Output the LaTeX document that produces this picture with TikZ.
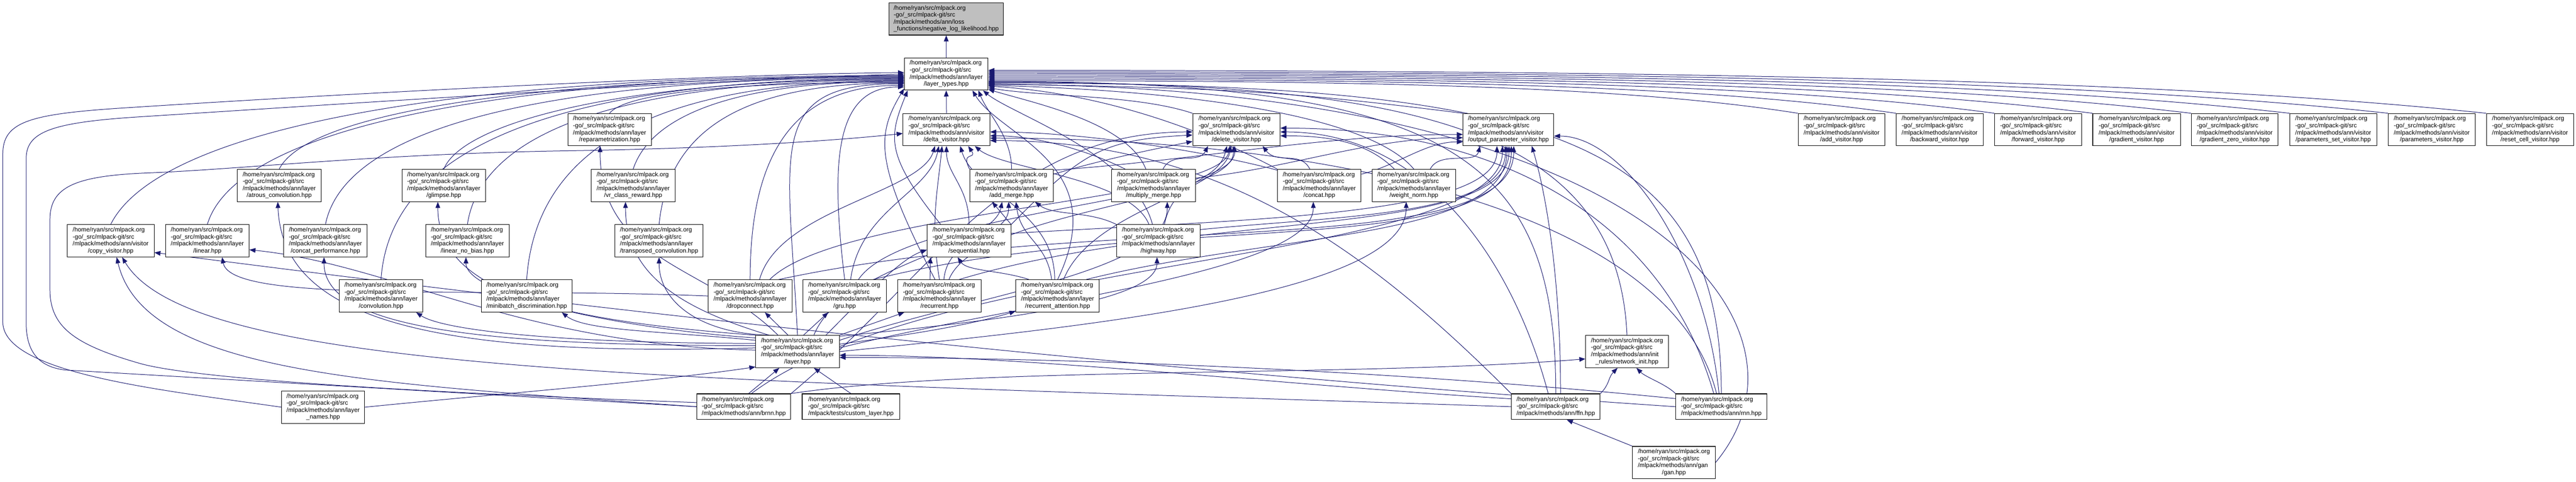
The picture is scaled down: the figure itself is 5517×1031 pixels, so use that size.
\documentclass[tikz,border=0pt]{standalone}
\usepackage{fontspec}
\setmainfont{Liberation Sans}
\usetikzlibrary{calc,arrows.meta}
\pgfdeclarelayer{bg}
\pgfsetlayers{bg,main}
\definecolor{eb}{RGB}{25,25,112}
\definecolor{rootfill}{RGB}{191,191,191}
\newcommand\lbf{\fontsize{13.1}{15}\selectfont}
\newcommand\lpa{/home/ryan/src/mlpack.org}
\newcommand\lpb{-go/\_src/mlpack-git/src}
\newcommand\fl[2]{\begin{tabular}{@{}l@{}}\lpa\\\lpb\\#1\\\multicolumn{1}{@{}c@{}}{#2}\end{tabular}}
\newcommand\tl[1]{\begin{tabular}{@{}l@{}}\lpa\\\lpb\\#1\end{tabular}}
\newcommand\ed[4]{\draw[e] (#1) .. controls ($(#1)+(#3)$) and ($(#2)+(#4)$) .. (#2);}
\tikzset{
  nb/.style={draw=black, line width=1.2pt, fill=white, inner sep=0pt, minimum height=69pt, font=\lbf},
  nt/.style={nb, minimum height=55pt},
  e/.style={draw=eb, line width=1.1pt, -{Triangle[length=13pt,width=10pt]}},
}
\begin{document}
\begin{tikzpicture}[x=1pt,y=-1pt]
\useasboundingbox (0,0) rectangle (5517,1031);
% row 0/1
\node[nb, fill=rootfill, minimum width=245pt] (root) at (2026.5,40.5) {\fl{/mlpack/methods/ann/loss}{\_functions/negative\_log\_likelihood.hpp}};
\node[nb, minimum width=179pt] (lt) at (2026.5,158.5) {\fl{/mlpack/methods/ann/layer}{/layer\_types.hpp}};
% row 2
\node[nb, minimum width=179pt] (reparam) at (1305.5,277.5) {\fl{/mlpack/methods/ann/layer}{/reparametrization.hpp}};
\node[nb, minimum width=186pt] (delta) at (2027,277.5) {\fl{/mlpack/methods/ann/visitor}{/delta\_visitor.hpp}};
\node[nb, minimum width=187pt] (delete) at (2648,277.5) {\fl{/mlpack/methods/ann/visitor}{/delete\_visitor.hpp}};
\node[nb, minimum width=194pt] (outparam) at (3230.5,277.5) {\fl{/mlpack/methods/ann/visitor}{/output\_parameter\_visitor.hpp}};
\node[nb, minimum width=186pt] (addv) at (3944,277.5) {\fl{/mlpack/methods/ann/visitor}{/add\_visitor.hpp}};
\node[nb, minimum width=186pt] (backv) at (4154,277.5) {\fl{/mlpack/methods/ann/visitor}{/backward\_visitor.hpp}};
\node[nb, minimum width=186pt] (fwdv) at (4365,277.5) {\fl{/mlpack/methods/ann/visitor}{/forward\_visitor.hpp}};
\node[nb, minimum width=188pt] (gradv) at (4576,277.5) {\fl{/mlpack/methods/ann/visitor}{/gradient\_visitor.hpp}};
\node[nb, minimum width=186pt] (gradzv) at (4786,277.5) {\fl{/mlpack/methods/ann/visitor}{/gradient\_zero\_visitor.hpp}};
\node[nb, minimum width=186pt] (psetv) at (4997,277.5) {\fl{/mlpack/methods/ann/visitor}{/parameters\_set\_visitor.hpp}};
\node[nb, minimum width=186pt] (paramsv) at (5208,277.5) {\fl{/mlpack/methods/ann/visitor}{/parameters\_visitor.hpp}};
\node[nb, minimum width=187pt] (resetv) at (5418.5,277.5) {\fl{/mlpack/methods/ann/visitor}{/reset\_cell\_visitor.hpp}};
% row 3
\node[nb, minimum width=179pt] (atrous) at (598,397) {\fl{/mlpack/methods/ann/layer}{/atrous\_convolution.hpp}};
\node[nb, minimum width=179pt] (glimpse) at (950.5,397) {\fl{/mlpack/methods/ann/layer}{/glimpse.hpp}};
\node[nb, minimum width=179pt] (vrclass) at (1356,397) {\fl{/mlpack/methods/ann/layer}{/vr\_class\_reward.hpp}};
\node[nb, minimum width=179pt] (addmerge) at (2166.5,397) {\fl{/mlpack/methods/ann/layer}{/add\_merge.hpp}};
\node[nb, minimum width=179pt] (multmerge) at (2470.5,397) {\fl{/mlpack/methods/ann/layer}{/multiply\_merge.hpp}};
\node[nb, minimum width=179pt] (concat) at (2825.5,397) {\fl{/mlpack/methods/ann/layer}{/concat.hpp}};
\node[nb, minimum width=179pt] (weightnorm) at (3028,397) {\fl{/mlpack/methods/ann/layer}{/weight\_norm.hpp}};
% row 4
\node[nb, minimum width=186pt] (copyv) at (237,515.5) {\fl{/mlpack/methods/ann/visitor}{/copy\_visitor.hpp}};
\node[nb, minimum width=179pt] (linear) at (444,515.5) {\fl{/mlpack/methods/ann/layer}{/linear.hpp}};
\node[nb, minimum width=179pt] (concatperf) at (697,515.5) {\fl{/mlpack/methods/ann/layer}{/concat\_performance.hpp}};
\node[nb, minimum width=179pt] (linearnb) at (1001,515.5) {\fl{/mlpack/methods/ann/layer}{/linear\_no\_bias.hpp}};
\node[nb, minimum width=189pt] (transconv) at (1411.5,515.5) {\fl{/mlpack/methods/ann/layer}{/transposed\_convolution.hpp}};
\node[nb, minimum width=179pt] (sequential) at (2075.5,515.5) {\fl{/mlpack/methods/ann/layer}{/sequential.hpp}};
\node[nb, minimum width=179pt] (highway) at (2481,515.5) {\fl{/mlpack/methods/ann/layer}{/highway.hpp}};
% row 5
\node[nb, minimum width=179pt] (conv) at (816,633.5) {\fl{/mlpack/methods/ann/layer}{/convolution.hpp}};
\node[nb, minimum width=194pt] (minibatch) at (1128,633.5) {\fl{/mlpack/methods/ann/layer}{/minibatch\_discrimination.hpp}};
\node[nb, minimum width=179pt] (dropconnect) at (1606.5,633.5) {\fl{/mlpack/methods/ann/layer}{/dropconnect.hpp}};
\node[nb, minimum width=179pt] (gru) at (1809,633.5) {\fl{/mlpack/methods/ann/layer}{/gru.hpp}};
\node[nb, minimum width=179pt] (recurrent) at (2012,633.5) {\fl{/mlpack/methods/ann/layer}{/recurrent.hpp}};
\node[nb, minimum width=179pt] (recatt) at (2265,633.5) {\fl{/mlpack/methods/ann/layer}{/recurrent\_attention.hpp}};
% row 6
\node[nb, minimum width=179pt] (layer) at (1708,752.5) {\fl{/mlpack/methods/ann/layer}{/layer.hpp}};
\node[nb, minimum width=177pt] (netinit) at (3484.5,752.5) {\fl{/mlpack/methods/ann/init}{\_rules/network\_init.hpp}};
% row 7
\node[nb, minimum width=178pt] (lnames) at (692,871.5) {\fl{/mlpack/methods/ann/layer}{\_names.hpp}};
\node[nt, minimum width=201pt] (brnn) at (1593,870.5) {\tl{/mlpack/methods/ann/brnn.hpp}};
\node[nt, minimum width=209pt] (custom) at (1822.5,870.5) {\tl{/mlpack/tests/custom\_layer.hpp}};
\node[nt, minimum width=190pt] (ffn) at (3332,870.5) {\tl{/mlpack/methods/ann/ffn.hpp}};
\node[nt, minimum width=195pt] (rnn) at (3686.5,870.5) {\tl{/mlpack/methods/ann/rnn.hpp}};
% row 8
\node[nb, minimum width=177pt] (gan) at (3585,990) {\fl{/mlpack/methods/ann/gan}{/gan.hpp}};

\begin{pgfonlayer}{bg}
\fill[white] (0,0) rectangle (5517,1031);
\draw[e] (lt.north) -- (root.south);
% visitors to layer_types (right)
\ed{addv.north west}{lt.-9}{-380,-60}{780,0}
\ed{backv.north west}{lt.-7}{-430,-62}{875,0}
\ed{fwdv.north west}{lt.-5}{-475,-64}{970,0}
\ed{gradv.north west}{lt.-3}{-520,-66}{1065,0}
\ed{gradzv.north west}{lt.-1}{-565,-68}{1160,0}
\ed{psetv.north west}{lt.1}{-615,-70}{1255,0}
\ed{paramsv.north west}{lt.3}{-660,-72}{1350,0}
\ed{resetv.north west}{lt.5}{-705,-74}{1445,0}
\ed{delete.north west}{lt.-18}{-120,-40}{120,20}
\ed{outparam.north west}{lt.-13}{-400,-50}{500,10}
\draw[e] (delta.north) -- (lt.south);
\ed{reparam.north}{lt.191}{40,-50}{-300,0}
\ed{concat.north west}{lt.-16}{-150,-80}{250,15}
\ed{multmerge.115}{lt.-20}{-40,-100}{100,30}
\ed{weightnorm.north}{lt.-15}{-100,-120}{400,10}
\ed{addmerge.north}{lt.-27}{0,-70}{20,50}
\ed{highway.110}{lt.-24}{-40,-150}{60,50}
\ed{recatt.north}{lt.-32}{120,-250}{60,100}
\ed{sequential.150}{lt.-157}{-120,-150}{-40,100}
\ed{recurrent.105}{lt.-161}{-130,-250}{-60,100}
\ed{gru.north}{lt.197}{-30,-250}{-150,0}
\ed{dropconnect.north}{lt.195}{0,-250}{-250,0}
\ed{layer.north}{lt.193}{-20,-400}{-300,0}
\ed{transconv.north}{lt.192}{20,-200}{-350,0}
\ed{vrclass.north}{lt.190}{40,-120}{-350,0}
\ed{minibatch.north}{lt.189}{20,-300}{-500,0}
\ed{linearnb.north}{lt.188}{30,-200}{-600,0}
\ed{glimpse.north}{lt.187}{40,-100}{-600,0}
\ed{conv.north}{lt.186}{20,-300}{-700,0}
\ed{concatperf.north}{lt.185}{40,-200}{-800,0}
\ed{atrous.north}{lt.184}{60,-120}{-800,0}
\ed{linear.north}{lt.183}{60,-200}{-900,0}
\ed{copyv.north}{lt.182}{100,-200}{-1000,0}
\draw[e] (lnames.west) .. controls (350,835) and (8,800) .. (6,690) -- (6,330) .. controls (6,262) and (60,245) .. (250,232) .. controls (900,190) and (1600,158) .. (lt.178);
\draw[e] (brnn.west) -- (140,792) .. controls (80,785) and (56,750) .. (56,690) -- (56,340) .. controls (56,282) and (110,262) .. (300,250) .. controls (800,218) and (1500,172) .. (lt.180);
\ed{netinit.north}{lt.-11}{-20,-450}{900,0}
\ed{ffn.north}{lt.-10}{0,-500}{1000,0}
\ed{rnn.north}{lt.-12}{0,-550}{1200,0}
\ed{gan.east}{lt.-14}{250,-300}{1400,0}
% delta visitor
\ed{addmerge.north west}{delta.-37}{-20,-40}{20,30}
\ed{sequential.north}{delta.-90}{0,-80}{0,60}
\ed{recurrent.north}{delta.-105}{-20,-120}{-10,100}
\ed{gru.70}{delta.-115}{20,-150}{-20,100}
\ed{dropconnect.60}{delta.-125}{40,-150}{-30,100}
\ed{recatt.100}{delta.-50}{0,-150}{30,100}
\ed{highway.120}{delta.-30}{-40,-100}{60,50}
\ed{multmerge.150}{delta.-8}{-80,-40}{100,0}
\ed{concat.160}{delta.-3}{-150,-40}{200,0}
\ed{ffn.north west}{delta.-14}{-300,-300}{500,0}
\ed{rnn.110}{delta.-11}{-100,-400}{700,0}
\draw[e] (brnn.175) .. controls (900,840) and (420,812) .. (300,778) .. controls (160,738) and (107,700) .. (107,620) -- (107,470) .. controls (107,400) and (160,376) .. (320,370) .. controls (520,362) and (800,330) .. (1200,323) .. controls (1550,318) and (1800,300) .. (delta.185);
% delete visitor
\ed{addmerge.15}{delete.195}{100,-30}{-100,20}
\ed{sequential.north east}{delete.187}{150,-150}{-200,10}
\ed{multmerge.60}{delete.-150}{20,-40}{-20,40}
\ed{highway.70}{delete.-120}{20,-100}{-20,80}
\ed{recatt.70}{delete.-108}{60,-150}{-20,100}
\ed{recurrent.60}{delete.-100}{60,-150}{0,120}
\ed{gru.50}{delete.-96}{100,-150}{0,120}
\ed{dropconnect.40}{delete.-112}{150,-150}{-20,120}
\ed{concat.120}{delete.-32}{-20,-40}{30,40}
\ed{weightnorm.140}{delete.-8}{-60,-60}{100,0}
\ed{ffn.120}{delete.-3}{-80,-300}{300,0}
\ed{rnn.120}{delete.2}{-100,-350}{500,0}
\ed{brnn.north east}{delete.183}{300,-250}{-400,0}
% output parameter visitor
\ed{addmerge.20}{outparam.186}{300,-20}{-300,0}
\ed{multmerge.10}{outparam.190}{200,-20}{-200,0}
\ed{concat.15}{outparam.195}{80,-20}{-80,0}
\ed{weightnorm.45}{outparam.-150}{20,-40}{-10,40}
\ed{sequential.10}{outparam.-125}{500,-30}{0,150}
\ed{highway.15}{outparam.-100}{300,-30}{0,150}
\ed{recatt.30}{outparam.-95}{400,-100}{0,200}
\ed{recurrent.40}{outparam.-88}{500,-150}{0,200}
\ed{gru.30}{outparam.-80}{600,-150}{0,250}
\ed{dropconnect.30}{outparam.-72}{700,-150}{0,250}
\ed{ffn.70}{outparam.-35}{0,-250}{30,100}
\ed{rnn.100}{outparam.-8}{-30,-300}{150,0}
\ed{brnn.60}{outparam.-110}{400,-300}{0,250}
% copy visitor
\ed{brnn.west}{copyv.-70}{-700,-50}{60,250}
\ed{ffn.west}{copyv.-55}{-1800,-60}{150,250}
\ed{rnn.west}{copyv.-15}{-1500,-100}{400,50}
% network init
\ed{ffn.north east}{netinit.-120}{20,-20}{-20,20}
\ed{rnn.north west}{netinit.-60}{-20,-20}{20,20}
\ed{brnn.north east}{netinit.190}{400,-60}{-500,40}
% layer.hpp incoming
\ed{lnames.east}{layer.200}{300,-30}{-200,30}
\draw[e] (brnn.70) -- (layer.-138);
\draw[e] (custom.north) -- (layer.-45);
\ed{ffn.170}{layer.-5}{-500,-30}{400,0}
\ed{rnn.170}{layer.-8}{-600,-60}{500,0}
% layer.hpp outgoing
\ed{layer.175}{atrous.-95}{-700,20}{10,250}
\ed{layer.178}{linear.-12}{-500,-10}{300,30}
\ed{layer.172}{concatperf.-95}{-600,0}{0,150}
\ed{layer.169}{conv.-25}{-400,0}{60,40}
\ed{layer.165}{minibatch.-25}{-200,-20}{50,40}
\ed{layer.north west}{glimpse.-110}{-400,-30}{0,200}
\ed{layer.150}{vrclass.-115}{-200,-60}{0,150}
\ed{layer.140}{reparam.-120}{-150,-150}{0,250}
\ed{layer.162}{linearnb.-95}{-300,-20}{0,80}
\ed{layer.145}{transconv.-90}{-150,0}{0,100}
\draw[e] (layer.120) -- (dropconnect.-48);
\draw[e] (layer.70) -- (gru.-135);
\draw[e] (layer.north east) -- (recurrent.-155);
\ed{layer.10}{recatt.200}{150,-20}{-100,30}
\ed{layer.30}{sequential.192}{60,-60}{-60,20}
\ed{layer.45}{addmerge.-120}{60,-150}{-20,100}
\ed{layer.15}{multmerge.-50}{300,-100}{0,150}
\ed{layer.5}{concat.-110}{400,-100}{0,150}
\ed{layer.0}{weightnorm.-115}{500,-50}{0,200}
\ed{layer.20}{highway.-95}{300,-30}{0,100}
% others
\ed{dropconnect.west}{linear.-48}{-500,-20}{20,100}
\ed{recurrent.75}{addmerge.-100}{10,-100}{0,80}
\ed{recatt.110}{addmerge.-75}{-10,-80}{10,80}
\ed{highway.north west}{addmerge.-35}{-60,-30}{40,30}
\draw[e] (sequential.north east) -- (addmerge.-140);
\draw[e] (recurrent.120) -- (sequential.-157);
\ed{recatt.150}{sequential.-125}{-60,-20}{20,30}
\draw[e] (gan.north west) -- (ffn.-50);
\end{pgfonlayer}
\end{tikzpicture}
\end{document}
